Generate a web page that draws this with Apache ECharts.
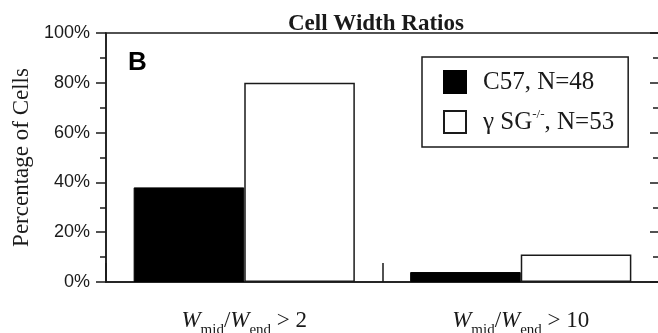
<!DOCTYPE html>
<html>
<head>
<meta charset="utf-8">
<script src="https://cdn.jsdelivr.net/npm/echarts@6/dist/echarts.min.js"></script>
<style>
  html, body { margin: 0; padding: 0; background: #fff; }
  #main { width: 658px; height: 333px; }
</style>
</head>
<body>
<div id="main"></div>
<script>
// ratio thresholds (W_mid / W_end > x)
var categories = ['> 2', '> 10'];
var seriesNames = ['C57, N=48', 'γ SG-/-, N=53'];
var c57Values = [38, 4];
var sgValues = [80, 11];
var yTicks = [0, 20, 40, 60, 80, 100];

var serif = 'Liberation Serif';
var sans = 'Liberation Sans';
var ink = '#1a1a1a';

var chart = echarts.init(document.getElementById('main'));

var option = {
    animation: false,
    title: {
        text: 'Cell Width Ratios',
        left: 283,
        top: 8,
        textStyle: { fontFamily: serif, fontWeight: 'bold', fontSize: 23, color: ink }
    },
    grid: {
        left: 106, right: -1, top: 33, bottom: 51,
        outerBoundsMode: 'none',
        containLabel: false,
        show: true, borderColor: ink, borderWidth: 1.5
    },
    legend: {
        orient: 'vertical',
        left: 422, top: 57,
        selectedMode: false,
        backgroundColor: '#fff',
        borderColor: ink, borderWidth: 1.5, borderRadius: 0,
        padding: [11, 14, 11, 21],
        itemWidth: 22, itemHeight: 22, itemGap: 12,
        icon: 'rect',
        data: seriesNames,
        formatter: function (name) {
            return name.replace('-/-', '{sup|-/-}');
        },
        textStyle: {
            fontFamily: serif, fontSize: 25, lineHeight: 28, color: ink,
            padding: [0, 0, 0, 12],
            rich: {
                sup: { fontFamily: serif, fontSize: 13, lineHeight: 13, padding: [0, 0, 15, 0], verticalAlign: 'bottom', color: ink }
            }
        }
    },
    graphic: [{
        type: 'text',
        left: 128, top: 50,
        style: { text: 'B', font: 'bold 26px "Liberation Sans"', fill: '#000' }
    }],
    xAxis: {
        type: 'category',
        data: categories,
        axisLine: { lineStyle: { color: ink, width: 1.5 } },
        axisTick: { show: true, inside: true, length: 19, interval: 0, alignWithLabel: false, lineStyle: { color: ink, width: 1.5 } },
        axisLabel: {
            interval: 0,
            margin: 27,
            formatter: function (v) {
                return '{w|W}{sub|mid}{s|/}{w|W}{sub|end}{s| ' + v + '}';
            },
            rich: {
                w: { fontFamily: serif, fontStyle: 'italic', fontSize: 23, lineHeight: 26, verticalAlign: 'top', color: ink },
                s: { fontFamily: serif, fontSize: 23, lineHeight: 26, verticalAlign: 'top', color: ink },
                sub: { fontFamily: serif, fontSize: 15, lineHeight: 15, padding: [14, 0, 0, 0], verticalAlign: 'top', color: ink }
            }
        }
    },
    yAxis: [{
        type: 'value',
        min: 0, max: 100, interval: 20,
        name: 'Percentage of Cells',
        nameLocation: 'middle',
        nameGap: 72,
        nameTextStyle: { fontFamily: serif, fontSize: 23, color: ink },
        axisLine: { show: true, lineStyle: { color: ink, width: 1.5 } },
        axisTick: { show: true, length: 10, lineStyle: { color: ink, width: 1.5 } },
        minorTick: { show: true, splitNumber: 2, length: 6, lineStyle: { color: ink, width: 1.5 } },
        splitLine: { show: false },
        axisLabel: {
            margin: 16,
            fontFamily: sans, fontSize: 18, color: ink,
            formatter: function (v) { return yTicks.indexOf(v) >= 0 ? v + '%' : ''; }
        }
    }, {
        type: 'value',
        position: 'right',
        min: 0, max: 100, interval: 20,
        axisLine: { show: false },
        axisTick: { show: true, inside: true, length: 9, lineStyle: { color: ink, width: 1.5 } },
        minorTick: { show: true, splitNumber: 2, length: 6, lineStyle: { color: ink, width: 1.5 } },
        splitLine: { show: false },
        axisLabel: { show: false }
    }],
    series: [{
        name: seriesNames[0],
        type: 'bar',
        data: c57Values,
        barGap: '0%',
        barCategoryGap: '20%',
        itemStyle: { color: '#000', borderColor: '#000', borderWidth: 1 }
    }, {
        name: seriesNames[1],
        type: 'bar',
        data: sgValues,
        barGap: '0%',
        barCategoryGap: '20%',
        itemStyle: { color: '#fff', borderColor: ink, borderWidth: 1.5 }
    }]
};

chart.setOption(option);
</script>
</body>
</html>
